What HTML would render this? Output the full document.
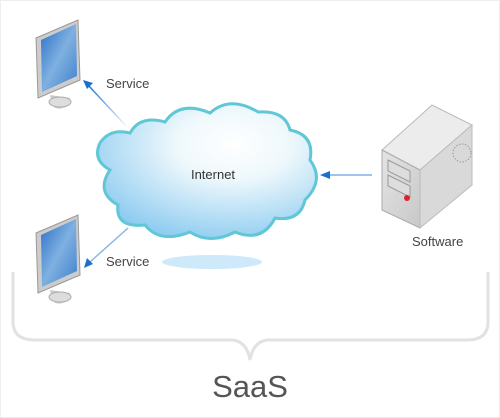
<!DOCTYPE html>
<html><head><style>
html,body{margin:0;padding:0;background:#fff;}
svg{display:block;}
text{font-family:"Liberation Sans",sans-serif;}
</style></head><body>
<svg width="500" height="418" viewBox="0 0 500 418" xmlns="http://www.w3.org/2000/svg">
<defs>
<linearGradient id="scr" x1="0" y1="0" x2="1" y2="1">
<stop offset="0" stop-color="#2a6fc9"/><stop offset="0.5" stop-color="#7fb0e0"/><stop offset="1" stop-color="#3d7fcc"/>
</linearGradient>
<radialGradient id="cl" cx="0.62" cy="0.3" r="0.75">
<stop offset="0" stop-color="#ffffff"/><stop offset="0.35" stop-color="#eef8fc"/><stop offset="1" stop-color="#8ccbf0"/>
</radialGradient>
<linearGradient id="srv" x1="0" y1="0" x2="1" y2="1">
<stop offset="0" stop-color="#e4e4e4"/><stop offset="1" stop-color="#c8c8c8"/>
</linearGradient>
<linearGradient id="ar1" x1="1" y1="1" x2="0" y2="0"><stop offset="0" stop-color="#1a6fd0" stop-opacity="0"/><stop offset="1" stop-color="#1a6fd0"/></linearGradient>
</defs>
<rect x="0.5" y="0.5" width="499" height="417" fill="none" stroke="#eee"/>
<g id="mon">
<polygon points="36,38 78,20 80,80 38,98" fill="#ccc" stroke="#999"/>
<polygon points="41,40 76,24 77,76 42,92" fill="url(#scr)"/>
<path d="M50,95 L52,104 Q55,112 68,106 L70,98 Z" fill="#c9c9c9"/>
<ellipse cx="60" cy="102" rx="11" ry="5" fill="#ddd" stroke="#aaa"/>
</g>
<use href="#mon" y="195"/>
<line x1="128" y1="128" x2="88" y2="85" stroke="url(#ar1)" stroke-width="1.5"/>
<path d="M83,80 L93,83 L87,89Z" fill="#1a6fd0"/>
<line x1="128" y1="228" x2="90" y2="262" stroke="#8ab8e6" stroke-width="1.5"/>
<path d="M84,268 L87,258 L93,264Z" fill="#1a6fd0"/>
<line x1="372" y1="175" x2="328" y2="175" stroke="#7fb0e6" stroke-width="1.5"/>
<path d="M320,175 L330,171 L330,179Z" fill="#1a6fd0"/>
<path d="M110,170 Q92,160 100,143 Q110,128 130,133 Q140,115 165,122 Q180,100 210,113 Q230,95 258,112 Q285,110 290,130 Q315,135 310,160 Q325,180 305,200 Q300,222 275,218 Q262,243 235,232 Q210,245 190,232 Q160,244 145,225 Q115,228 118,205 Q95,192 110,170Z" fill="url(#cl)" stroke="#5fc7d5" stroke-width="3"/>
<text x="213" y="179" font-size="13" fill="#333" text-anchor="middle">Internet</text>
<ellipse cx="212" cy="262" rx="50" ry="7" fill="#cde9fa"/>
<polygon points="382,150 432,105 472,125 420,170" fill="#ececec" stroke="#bbb"/>
<polygon points="382,150 420,170 420,228 382,210" fill="url(#srv)" stroke="#aaa"/>
<polygon points="420,170 472,125 472,185 420,228" fill="#d9d9d9" stroke="#bbb"/>
<polygon points="388,160 410,171 410,182 388,171" fill="#ddd" stroke="#999"/>
<polygon points="388,175 410,186 410,197 388,186" fill="#ddd" stroke="#999"/>
<circle cx="407" cy="198" r="3" fill="#d23"/>
<circle cx="462" cy="153" r="9" fill="none" stroke="#999" stroke-dasharray="1.5 1.5"/>
<text x="106" y="88" font-size="13" fill="#444">Service</text>
<text x="106" y="266" font-size="13" fill="#444">Service</text>
<text x="412" y="246" font-size="13" fill="#444">Software</text>
<path d="M13,272 L13,322 Q13,340 35,340 L233,340 Q247,342 250,360 Q253,342 267,340 L467,340 Q488,340 488,322 L488,272" fill="none" stroke="#e2e2e2" stroke-width="3"/>
<text x="250" y="397" font-size="31" fill="#555" text-anchor="middle">SaaS</text>
</svg>
</body></html>
